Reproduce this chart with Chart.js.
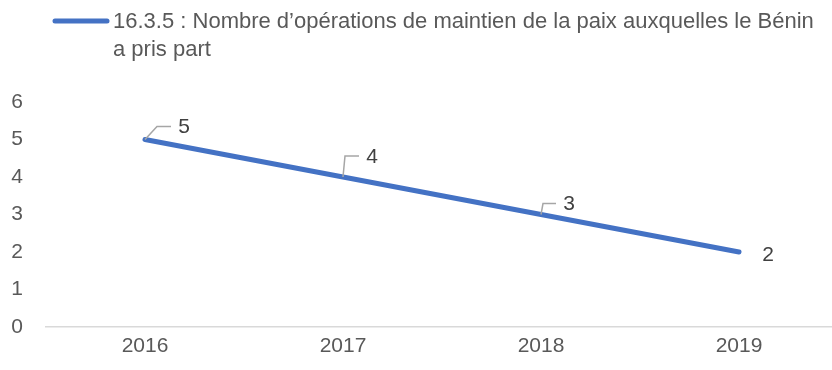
<!DOCTYPE html>
<html>
<head>
<meta charset="utf-8">
<script src="https://cdn.jsdelivr.net/npm/chart.js@4/dist/chart.umd.min.js"></script>
<style>
  html, body { margin: 0; padding: 0; background: #fff; overflow: hidden; }
  #wrap { position: relative; width: 840px; height: 370px; }
</style>
</head>
<body>
<div id="wrap"><canvas id="c"></canvas></div>
<script>
// Years on the horizontal axis
const years = ['2016', '2017', '2018', '2019'];
// Number of peacekeeping operations per year
const operations = [5, 4, 3, 2];
// Vertical axis tick values
const yTicks = [0, 1, 2, 3, 4, 5, 6];
const seriesName = '16.3.5 : Nombre d\u2019op\u00e9rations de maintien de la paix auxquelles le B\u00e9nin a pris part';

const FONT = '"Liberation Sans", Arial, sans-serif';
const LINE_COLOR = '#4472C4';

// Callout placement for each value label (offset from the point) and whether a leader is drawn
const labelOffsets = [[39, -13], [29, -21], [28, -11], [29, 2]];
const showLeader = [true, true, true, false];

const calloutPlugin = {
  id: 'callouts',
  afterDatasetsDraw(chart) {
    const ctx = chart.ctx;
    const meta = chart.getDatasetMeta(0);
    ctx.save();
    ctx.font = '21px ' + FONT;
    ctx.textAlign = 'center';
    ctx.textBaseline = 'middle';
    meta.data.forEach((pt, i) => {
      const lx = pt.x + labelOffsets[i][0];
      const ly = pt.y + labelOffsets[i][1];
      if (showLeader[i]) {
        ctx.strokeStyle = '#A6A6A6';
        ctx.lineWidth = 1.5;
        ctx.beginPath();
        const cx = lx - 27;
        const cy = ly;
        ctx.moveTo(pt.x, pt.y);
        ctx.lineTo(Math.max(cx, pt.x + 2), cy);
        ctx.lineTo(lx - 13, cy);
        ctx.stroke();
      }
      ctx.fillStyle = '#404040';
      ctx.fillText(String(operations[i]), lx, ly + 1);
    });
    ctx.restore();
  }
};

// Legend drawn as a line sample followed by wrapped series name
const legendPlugin = {
  id: 'wrappedLegend',
  afterDraw(chart) {
    const ctx = chart.ctx;
    ctx.save();
    ctx.strokeStyle = LINE_COLOR;
    ctx.lineWidth = 5;
    ctx.lineCap = 'round';
    ctx.beginPath();
    ctx.moveTo(55, 21);
    ctx.lineTo(107, 21);
    ctx.stroke();
    ctx.font = '22px ' + FONT;
    ctx.fillStyle = '#595959';
    ctx.textAlign = 'left';
    ctx.textBaseline = 'middle';
    const maxW = 832 - 113 - 8;
    const words = seriesName.split(' ');
    const lines = [];
    let cur = '';
    words.forEach(w => {
      const test = cur ? cur + ' ' + w : w;
      if (ctx.measureText(test).width > maxW && cur) { lines.push(cur); cur = w; }
      else cur = test;
    });
    if (cur) lines.push(cur);
    lines.forEach((ln, k) => ctx.fillText(ln, 113, 22 + k * 28));
    ctx.restore();
  }
};

new Chart(document.getElementById('c'), {
  type: 'line',
  data: {
    labels: years,
    datasets: [{
      label: seriesName,
      data: operations,
      borderColor: LINE_COLOR,
      backgroundColor: LINE_COLOR,
      borderWidth: 5,
      borderCapStyle: 'round',
      pointRadius: 0,
      pointHoverRadius: 0,
      tension: 0
    }]
  },
  options: {
    responsive: true,
    maintainAspectRatio: false,
    animation: false,
    layout: { padding: { top: 102, right: 2, left: 0, bottom: 0 } },
    plugins: { legend: { display: false }, tooltip: { enabled: false } },
    scales: {
      x: {
        offset: true,
        grid: { display: false, drawTicks: false },
        border: { display: true, color: '#D9D9D9', width: 1.5 },
        ticks: { color: '#595959', font: { family: FONT, size: 21 }, padding: 7 },
        afterFit(s) { s.height = 43; }
      },
      y: {
        min: 0,
        max: 6,
        afterBuildTicks(s) { s.ticks = yTicks.map(v => ({ value: v })); },
        grid: { display: false, drawTicks: false },
        border: { display: false },
        ticks: { color: '#595959', font: { family: FONT, size: 21 }, padding: 23 },
        afterFit(s) { s.width = 46; }
      }
    }
  },
  plugins: [calloutPlugin, legendPlugin]
});
</script>
</body>
</html>
